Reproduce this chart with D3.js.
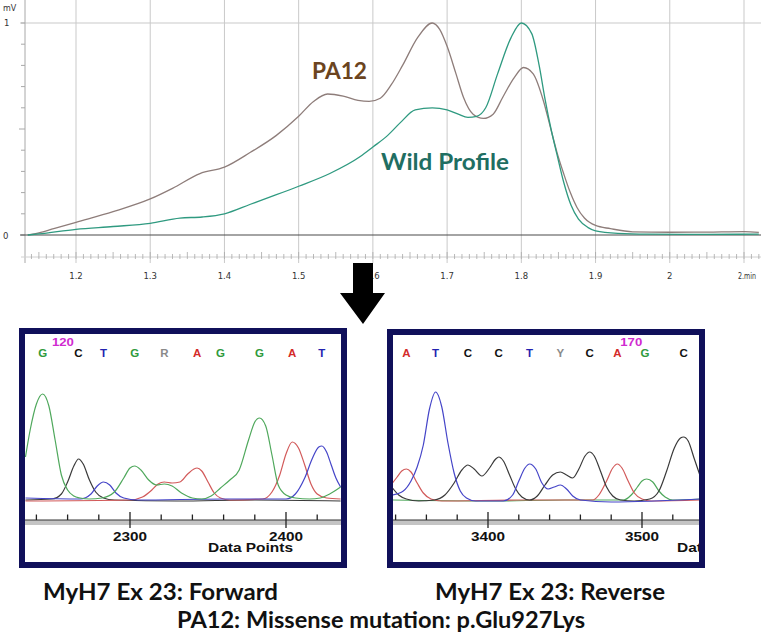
<!DOCTYPE html>
<html><head><meta charset="utf-8">
<script src="https://cdn.jsdelivr.net/npm/d3@7"></script>
<style>html,body{margin:0;padding:0;background:#fff;}svg{display:block;}</style>
</head><body>
<svg id="c" width="761" height="640"></svg>
<script>
// ---------- DATA ----------
// Top: HPLC / DHPLC elution profile (time in min, signal in mV)
const xTicksTop = [1.2, 1.3, 1.4, 1.5, 1.6, 1.7, 1.8, 1.9, 2.0, 2.1];
const xTickLabelsTop = ["1.2","1.3","1.4","1.5","1.6","1.7","1.8","1.9","2","2.min"];
const pa12Profile = [[1.135,0],[1.15,0.01],[1.17,0.03],[1.2,0.06],[1.25,0.11],[1.3,0.17],[1.33,0.22],[1.367,0.29],[1.4,0.32],[1.435,0.39],[1.47,0.47],[1.5,0.56],[1.52,0.63],[1.539,0.665],[1.56,0.655],[1.58,0.635],[1.595,0.63],[1.61,0.645],[1.625,0.71],[1.64,0.80],[1.66,0.93],[1.68,1.0],[1.69,0.97],[1.7,0.89],[1.712,0.76],[1.722,0.65],[1.735,0.57],[1.749,0.55],[1.762,0.57],[1.775,0.65],[1.79,0.74],[1.803,0.79],[1.816,0.76],[1.83,0.63],[1.839,0.51],[1.848,0.39],[1.857,0.29],[1.866,0.20],[1.875,0.13],[1.885,0.08],[1.9,0.045],[1.92,0.03],[1.95,0.015],[2.0,0.013],[2.05,0.014],[2.1,0.016],[2.12,0.012]];
const wildProfile = [[1.135,0],[1.15,0.005],[1.2,0.027],[1.25,0.04],[1.3,0.055],[1.34,0.08],[1.37,0.085],[1.4,0.10],[1.435,0.145],[1.47,0.19],[1.5,0.23],[1.542,0.29],[1.583,0.37],[1.6,0.415],[1.62,0.47],[1.637,0.53],[1.657,0.59],[1.68,0.60],[1.7,0.59],[1.715,0.57],[1.728,0.555],[1.74,0.56],[1.752,0.60],[1.768,0.76],[1.786,0.93],[1.8,1.0],[1.814,0.95],[1.824,0.80],[1.832,0.64],[1.84,0.50],[1.848,0.38],[1.857,0.25],[1.867,0.14],[1.877,0.075],[1.89,0.035],[1.9,0.02],[1.93,0.008],[1.97,0.004],[2.05,0.003],[2.12,0.004]];

// Forward chromatogram (data points, relative intensity)
const fwdBases = ["G","C","T","G","R","A","G","G","A","T"];
const fwdBasePos = [2244,2267,2283,2303,2322,2343,2358,2383,2404,2423];
const fwdGreen = [[2233,43],[2236,70],[2240,96],[2244,106],[2248,94],[2252,60],[2256,25],[2260,10],[2264,4],[2268,2],[2274,1],[2282,2],[2290,8],[2296,22],[2300,32],[2303,34],[2307,30],[2312,20],[2317,15],[2322,16],[2327,14],[2333,7],[2340,2],[2346,1],[2352,4],[2358,12],[2364,20],[2370,30],[2376,60],[2380,78],[2383,82],[2387,74],[2391,45],[2395,15],[2400,5],[2406,2],[2415,1],[2422,2],[2428,6],[2435,13]];
const fwdBlack = [[2233,0],[2250,1],[2256,6],[2260,18],[2264,34],[2267,41],[2270,36],[2274,20],[2278,8],[2283,2],[2290,0],[2330,-1],[2380,0],[2435,-1]];
const fwdBlue = [[2233,2],[2268,1],[2275,6],[2279,14],[2283,18],[2287,15],[2291,7],[2296,2],[2305,0],[2360,1],[2400,1],[2406,6],[2412,22],[2417,42],[2421,53],[2423,54],[2426,48],[2429,35],[2432,22],[2435,13]];
const fwdRed = [[2233,-1],[2300,0],[2308,3],[2314,10],[2318,16],[2322,18],[2327,17],[2332,18],[2337,26],[2341,31],[2343,32],[2346,29],[2350,18],[2354,7],[2358,2],[2364,0],[2385,1],[2391,8],[2396,25],[2400,46],[2404,58],[2408,52],[2412,35],[2416,16],[2420,6],[2426,2],[2435,1]];

// Reverse chromatogram
const revBases = ["A","T","C","C","T","Y","C","A","G","C"];
const revBasePos = [3347,3366,3387,3407,3427,3447,3466,3484,3502,3527];
const revRed = [[3338,18],[3341,24],[3344,30],[3347,32],[3350,29],[3354,18],[3358,8],[3363,2],[3370,0],[3420,1],[3468,1],[3472,6],[3477,20],[3481,33],[3484,37],[3487,33],[3491,20],[3495,8],[3500,2],[3506,0],[3538,1]];
const revBlue = [[3338,6],[3345,10],[3350,20],[3354,34],[3358,56],[3362,92],[3366,109],[3370,94],[3374,58],[3378,28],[3382,10],[3386,3],[3392,0],[3410,0],[3416,6],[3420,20],[3424,33],[3427,37],[3431,32],[3435,18],[3439,12],[3443,14],[3447,16],[3451,12],[3455,5],[3460,1],[3480,-1],[3538,2]];
const revBlack = [[3338,13],[3342,6],[3347,2],[3355,0],[3365,1],[3372,6],[3378,18],[3383,31],[3387,36],[3391,32],[3396,25],[3401,33],[3405,42],[3407,44],[3410,40],[3414,26],[3418,12],[3422,4],[3427,1],[3432,5],[3437,16],[3442,26],[3447,29],[3451,26],[3455,23],[3459,32],[3463,45],[3466,49],[3469,45],[3473,30],[3477,14],[3481,5],[3486,1],[3495,0],[3505,2],[3511,10],[3516,30],[3521,53],[3525,63],[3527,64],[3530,60],[3534,42],[3538,24]];
const revGreen = [[3338,1],[3400,0],[3450,1],[3488,1],[3493,6],[3497,14],[3500,20],[3503,22],[3507,19],[3511,10],[3515,4],[3520,1],[3538,2]];

const captions = ["MyH7 Ex 23: Forward", "MyH7 Ex 23: Reverse", "PA12: Missense mutation: p.Glu927Lys"];

// ---------- DRAW ----------
const svg = d3.select("#c");
svg.append("rect").attr("width",761).attr("height",640).attr("fill","#fff");

// Top chart scales
const x = d3.scaleLinear().domain([1.2, 2.1]).range([76, 744]);
const y = d3.scaleLinear().domain([0, 1]).range([235, 23]);
const gTop = svg.append("g");
const fTop = "'DejaVu Sans', Verdana, sans-serif";

// vertical gridlines
gTop.selectAll("line.vg").data(xTicksTop).join("line")
  .attr("x1", d=>x(d)).attr("x2", d=>x(d)).attr("y1", 0).attr("y2", 263)
  .attr("stroke", "#c9c9c9").attr("stroke-width", 1);
// horizontal gridline at 1 mV
gTop.append("line").attr("x1",20).attr("x2",761).attr("y1",y(1)).attr("y2",y(1)).attr("stroke","#c9c9c9");
// y axis
gTop.append("line").attr("x1",25).attr("x2",25).attr("y1",0).attr("y2",263).attr("stroke","#a8a8a8");
gTop.selectAll("line.yt").data(d3.range(0,11).map(i=>i/10)).join("line")
  .attr("x1", d => (d===0.5 ? 19 : 21)).attr("x2", 25).attr("y1", d=>y(d)).attr("y2", d=>y(d))
  .attr("stroke","#a8a8a8");
// x minor tick axis
const xMinor = d3.range(114, 213).map(i=>i/100);
gTop.append("line").attr("x1",21).attr("x2",761).attr("y1",257).attr("y2",257).attr("stroke","#d0d0d0");
gTop.selectAll("line.xt").data(xMinor).join("line")
  .attr("x1", d=>x(d)).attr("x2", d=>x(d))
  .attr("y1", d => (Math.round(d*100)%5===0 ? 252 : 254)).attr("y2", 259)
  .attr("stroke","#a8a8a8").attr("stroke-width",0.8);
// zero line
gTop.append("line").attr("x1",20).attr("x2",761).attr("y1",y(0)).attr("y2",y(0)).attr("stroke","#4a4a4a").attr("stroke-width",1.2);

// labels
gTop.selectAll("text.xl").data(xTicksTop).join("text")
  .attr("x", (d,i)=> i===xTicksTop.length-1 ? x(d)-6 : x(d)).attr("y", 279)
  .attr("text-anchor",(d,i)=> i===xTicksTop.length-1 ? "start" : "middle")
  .attr("font-family", fTop).attr("font-size", 8.5).attr("fill","#333")
  .each(function(d,i){ if(i===xTicksTop.length-1) d3.select(this).attr("textLength",18).attr("lengthAdjust","spacingAndGlyphs"); })
  .text((d,i)=>xTickLabelsTop[i]);
gTop.append("text").attr("x",3).attr("y",11).attr("font-family",fTop).attr("font-size",8).attr("fill","#333").text("mV");
gTop.append("text").attr("x",4).attr("y",26).attr("font-family",fTop).attr("font-size",8.5).attr("fill","#333").text("1");
gTop.append("text").attr("x",3).attr("y",239).attr("font-family",fTop).attr("font-size",8.5).attr("fill","#333").text("0");

// curves
const lineTop = d3.line().x(d=>x(d[0])).y(d=>y(d[1])).curve(d3.curveMonotoneX);
gTop.append("path").datum(pa12Profile).attr("d", lineTop).attr("fill","none").attr("stroke","#8e7d7a").attr("stroke-width",1.3);
gTop.append("path").datum(wildProfile).attr("d", lineTop).attr("fill","none").attr("stroke","#2f9a80").attr("stroke-width",1.3);

const fCal = "Lato, 'Open Sans', sans-serif";
gTop.append("text").attr("x",312).attr("y",79).attr("font-family",fCal).attr("font-weight","bold")
  .attr("font-size",22).attr("fill","#6b4420").attr("textLength",55).attr("lengthAdjust","spacingAndGlyphs").text("PA12");
gTop.append("text").attr("x",381).attr("y",170).attr("font-family",fCal).attr("font-weight","bold")
  .attr("font-size",22).attr("fill","#1f6e62").attr("textLength",128).attr("lengthAdjust","spacingAndGlyphs").text("Wild Profile");

// arrow
svg.append("path").attr("d","M353,263 L373,263 L373,293 L385,293 L363,324 L340,293 L353,293 Z").attr("fill","#000");

// ---------- chromatogram panels ----------
const baseColor = {G:"#2f9a3c", C:"#111", T:"#2323b0", A:"#d42a2a", R:"#8a8a8a", Y:"#8a8a8a"};
const traceColor = {green:"#4fa85c", black:"#3a3a3a", blue:"#4545c8", red:"#d25a5a"};
const fArial = "'Liberation Sans', Arial, sans-serif";

function panel(opt) {
  const g = svg.append("g");
  const xs = d3.scaleLinear().domain(opt.dom).range(opt.rng);
  const ys = d3.scaleLinear().domain([0, 100]).range([opt.base, opt.base - 100]);
  const clipId = "clip" + opt.id;
  svg.append("clipPath").attr("id", clipId).append("rect")
    .attr("x", opt.inner[0]).attr("y", opt.inner[1]).attr("width", opt.inner[2]-opt.inner[0]).attr("height", opt.inner[3]-opt.inner[1]);
  const cg = g.append("g").attr("clip-path", `url(#${clipId})`);
  // base calls
  cg.selectAll("text.b").data(opt.bases).join("text")
    .attr("x",(d,i)=>xs(opt.basePos[i])).attr("y",357).attr("text-anchor","middle")
    .attr("font-family",fArial).attr("font-weight","bold").attr("font-size",11.5)
    .attr("fill", d=>baseColor[d]).text(d=>d);
  cg.append("text").attr("x", xs(opt.numPos)).attr("y",346).attr("text-anchor","middle")
    .attr("font-family",fArial).attr("font-weight","bold").attr("font-size",10).attr("fill","#d02ad0")
    .attr("textLength",22).attr("lengthAdjust","spacingAndGlyphs").text(opt.num);
  // traces
  const ln = d3.line().x(d=>xs(d[0])).y(d=>ys(d[1])).curve(d3.curveMonotoneX);
  opt.traces.forEach(t => {
    cg.append("path").datum(t.data).attr("d", ln).attr("fill","none")
      .attr("stroke", traceColor[t.c]).attr("stroke-width",1.2);
  });
  // axis band
  cg.append("rect").attr("x",opt.inner[0]).attr("y",520).attr("width",opt.inner[2]-opt.inner[0]).attr("height",5).attr("fill","#c4c4c4");
  cg.append("line").attr("x1",opt.inner[0]).attr("x2",opt.inner[2]).attr("y1",520).attr("y2",520).attr("stroke","#333").attr("stroke-width",1);
  cg.selectAll("line.t").data(d3.range(opt.tickStart, opt.dom1, 20)).join("line")
    .attr("x1", d=>xs(d)).attr("x2", d=>xs(d))
    .attr("y1", d => d%100===0 ? 512 : 514.5).attr("y2", d => d%100===0 ? 528 : 520)
    .attr("stroke","#222").attr("stroke-width",1.3);
  cg.selectAll("text.tl").data(opt.majors).join("text")
    .attr("x", d=>xs(d)-17).attr("y",541)
    .attr("font-family",fArial).attr("font-weight","bold").attr("font-size",12).attr("fill","#111")
    .attr("textLength",34).attr("lengthAdjust","spacingAndGlyphs").text(d=>d);
  cg.append("text").attr("x", opt.dpX).attr("y",552).attr("font-family",fArial).attr("font-weight","bold")
    .attr("font-size",12.5).attr("fill","#111").attr("textLength",85).attr("lengthAdjust","spacingAndGlyphs").text("Data Points");
  // frame
  g.append("rect").attr("x",opt.frame[0]).attr("y",opt.frame[1]).attr("width",opt.frame[2]).attr("height",opt.frame[3])
    .attr("fill","none").attr("stroke","#10105a").attr("stroke-width",6);
}

panel({id:"L", dom:[2300,2400], rng:[130,286], base:500, inner:[25,334,341,562],
  frame:[22,331,322,234], bases:fwdBases, basePos:fwdBasePos, num:"120", numPos:2257,
  traces:[{c:"black",data:fwdBlack},{c:"red",data:fwdRed},{c:"blue",data:fwdBlue},{c:"green",data:fwdGreen}],
  tickStart:2240, dom1:2436, majors:[2300,2400], dpX:208});
panel({id:"R", dom:[3400,3500], rng:[488,642], base:501, inner:[393,335,702,562],
  frame:[390,332,312,233], bases:revBases, basePos:revBasePos, num:"170", numPos:3493,
  traces:[{c:"green",data:revGreen},{c:"red",data:revRed},{c:"black",data:revBlack},{c:"blue",data:revBlue}],
  tickStart:3340, dom1:3539, majors:[3400,3500], dpX:677});

// captions
svg.append("text").attr("x",43).attr("y",600).attr("font-family",fCal).attr("font-weight","bold").attr("font-size",22)
  .attr("fill","#111").attr("textLength",235).attr("lengthAdjust","spacingAndGlyphs").text(captions[0]);
svg.append("text").attr("x",435).attr("y",600).attr("font-family",fCal).attr("font-weight","bold").attr("font-size",22)
  .attr("fill","#111").attr("textLength",230).attr("lengthAdjust","spacingAndGlyphs").text(captions[1]);
svg.append("text").attr("x",177).attr("y",628).attr("font-family",fCal).attr("font-weight","bold").attr("font-size",22)
  .attr("fill","#111").attr("textLength",408).attr("lengthAdjust","spacingAndGlyphs").text(captions[2]);
</script>
</body></html>
